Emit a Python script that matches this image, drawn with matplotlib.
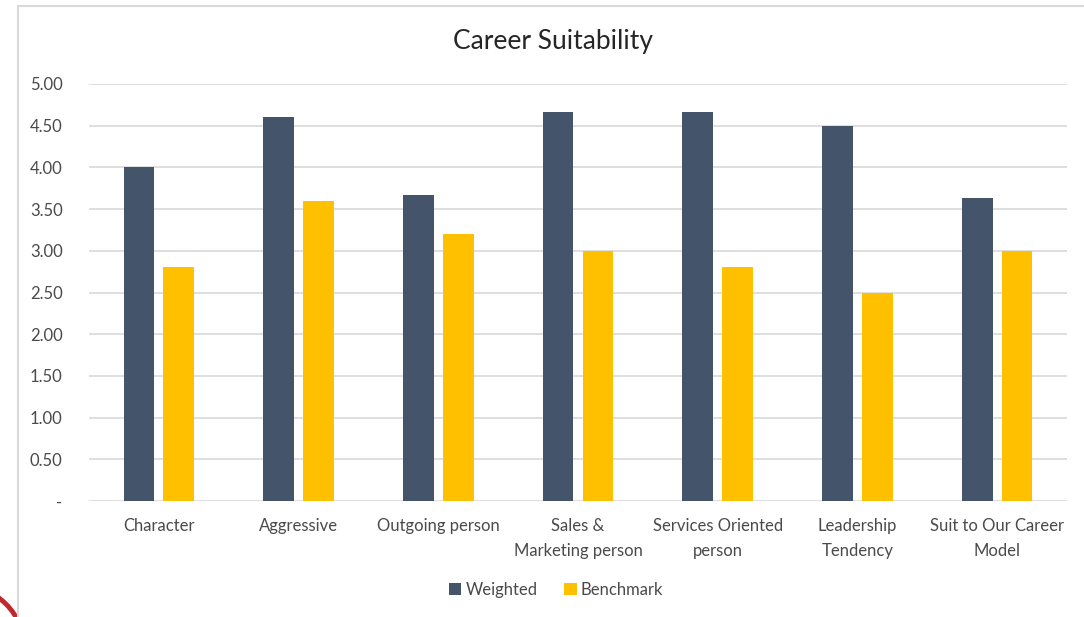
import numpy as np
import matplotlib
matplotlib.use("Agg")
import matplotlib.pyplot as plt
from matplotlib.lines import Line2D
from matplotlib.patches import Circle
from matplotlib.ticker import FuncFormatter

# data
categories = ["Character", "Aggressive", "Outgoing person", "Sales &\nMarketing person",
              "Services Oriented\nperson", "Leadership\nTendency", "Suit to Our Career\nModel"]
weighted = [4.00, 4.60, 3.67, 4.67, 4.67, 4.50, 3.63]
benchmark = [2.80, 3.60, 3.20, 3.00, 2.80, 2.50, 3.00]

plt.rcParams['font.family'] = ['Lato', 'DejaVu Sans']

fig = plt.figure(figsize=(10.84, 6.17), dpi=100)
ax = fig.add_axes([89/1084, 1 - 501/617, 978/1084, 417/617])

x = np.arange(len(categories))
w = 0.22
ax.bar(x - 0.143, weighted, w, color="#44546a", label="Weighted", zorder=3)
ax.bar(x + 0.143, benchmark, w, color="#ffc000", label="Benchmark", zorder=3)

ax.set_xlim(-0.5, len(categories) - 0.5)
ax.set_ylim(0, 5)
ax.set_yticks(np.arange(0, 5.01, 0.5))
ax.yaxis.set_major_formatter(FuncFormatter(lambda v, p: "-" if v == 0 else f"{v:.2f}"))
ax.set_xticks(x)
ax.set_xticklabels(categories, linespacing=1.75)
ax.tick_params(axis="both", length=0, labelsize=12, labelcolor="#4a4a4a")
ax.tick_params(axis="y", pad=19)
ax.tick_params(axis="x", pad=12)
ax.grid(axis="y", color="#d9d9d9", linewidth=1.2, zorder=0)
for s in ax.spines.values():
    s.set_visible(False)

fig.text(553/1084, 1 - 42/617, "Career Suitability", ha="center", va="center",
         fontsize=19, color="#262626")

leg = fig.legend(loc="center", bbox_to_anchor=(556/1084, 1 - 590/617), ncol=2,
                 frameon=False, fontsize=12, handlelength=0.75, handleheight=0.75,
                 columnspacing=1.6, handletextpad=0.25)
for t in leg.get_texts():
    t.set_color("#4a4a4a")

# chart frame
fig.add_artist(Line2D([18/1084, 18/1084], [0, 1 - 6/617], color="#d9d9d9", linewidth=1.5))
fig.add_artist(Line2D([18/1084, 1], [1 - 6/617, 1 - 6/617], color="#d9d9d9", linewidth=1.5))

# red arc in the corner (pixel coordinates)
fig.add_artist(Circle((-40, 617 - 650), 65, transform=None,
                      fill=False, edgecolor="#c0282d", linewidth=3.5))

fig.savefig("out.png", dpi=100)
